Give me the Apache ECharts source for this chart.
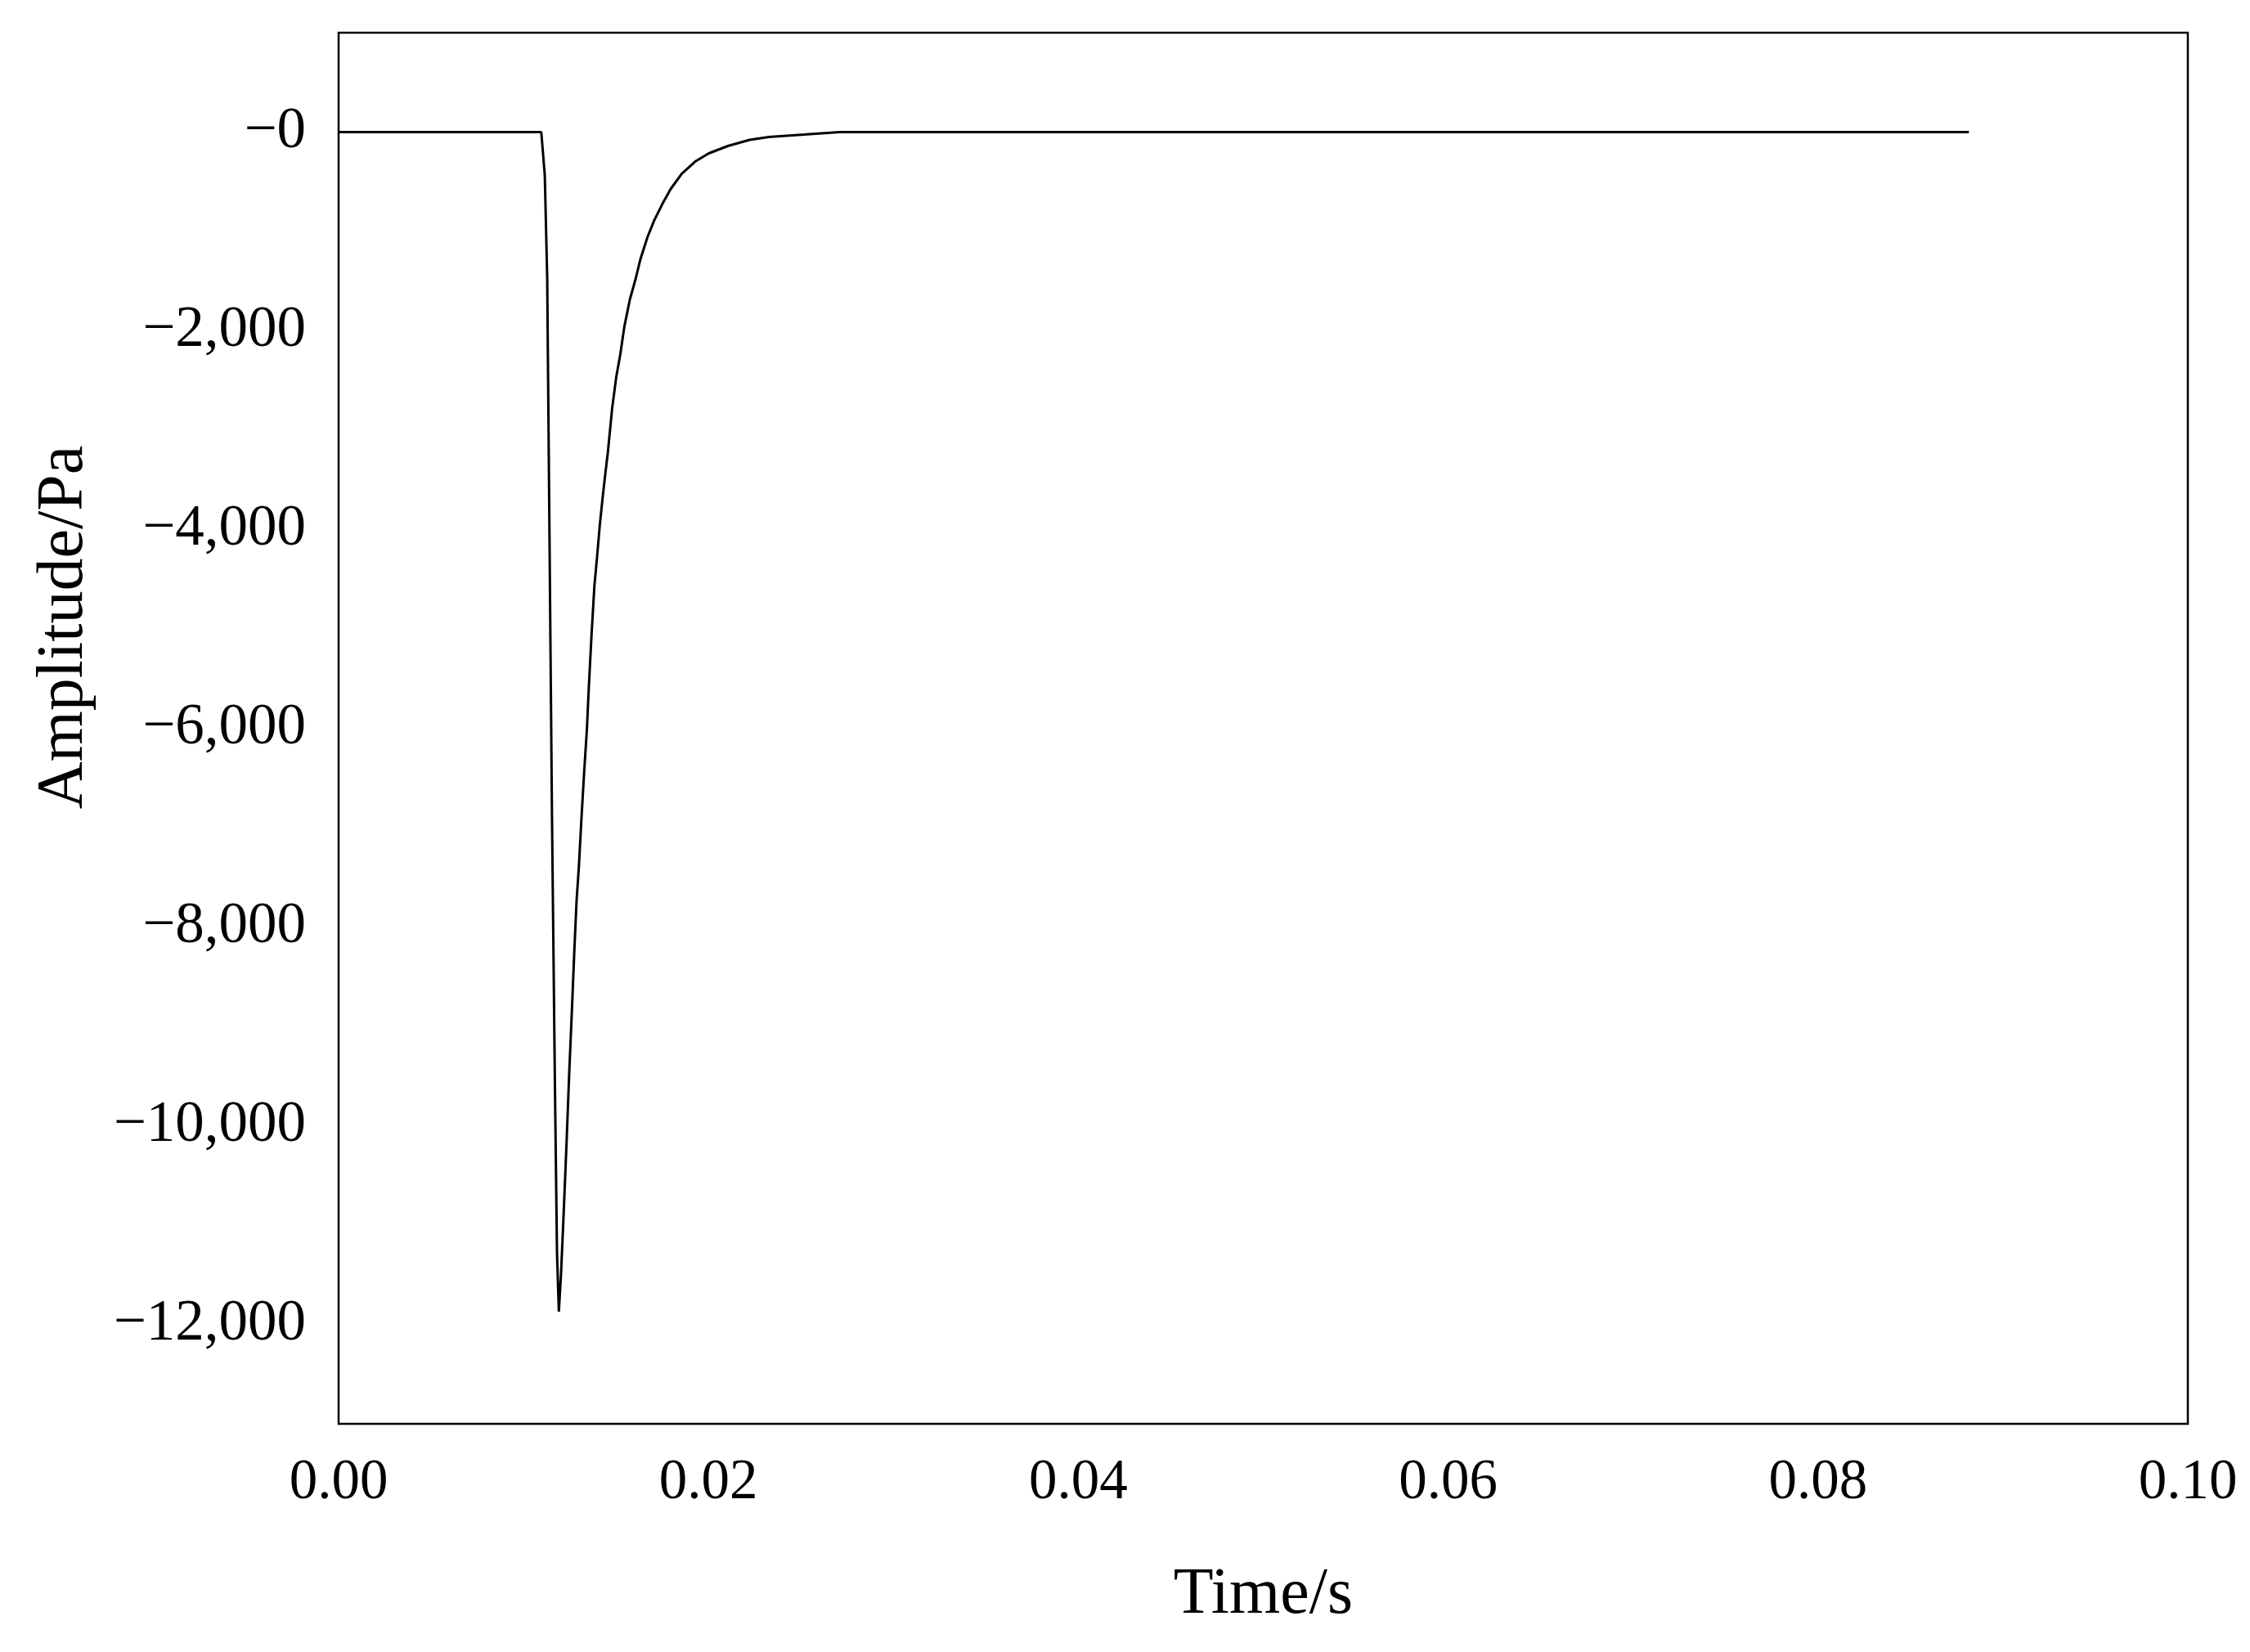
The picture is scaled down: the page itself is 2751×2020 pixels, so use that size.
<!DOCTYPE html>
<html>
<head>
<meta charset="utf-8">
<title>Amplitude vs Time</title>
<script src="https://cdn.jsdelivr.net/npm/echarts@6/dist/echarts.min.js"></script>
<style>
  html, body { margin: 0; padding: 0; background: #fff; }
  #chart { width: 2751px; height: 2020px; }
</style>
</head>
<body>
<div id="chart"></div>
<script>
// time (s) and amplitude (Pa)
var times = [0, 0.01096, 0.01115, 0.01128, 0.01139, 0.01154, 0.01170, 0.01181, 0.01191,
  0.01203, 0.01218, 0.01232, 0.01247, 0.01262, 0.01275, 0.01287, 0.01299, 0.01314,
  0.01328, 0.01343, 0.01353, 0.01368, 0.01383, 0.01398, 0.01412, 0.01427, 0.01442,
  0.01456, 0.01479, 0.01501, 0.01523, 0.01545, 0.01575, 0.01604, 0.01633, 0.01671,
  0.01707, 0.01751, 0.01796, 0.01855, 0.01928, 0.02002, 0.02105, 0.02223, 0.02326,
  0.02518, 0.02710, 0.08816];
var amplitudes = [0, 0, -435, -1465, -3774, -6908, -9628, -11277, -11871,
  -11484, -10841, -10206, -9472, -8820, -8227, -7732, -7402, -6883,
  -6437, -6000, -5588, -5052, -4574, -4269, -3964, -3692, -3444,
  -3224, -2785, -2470, -2240, -1960, -1685, -1492, -1273, -1053,
  -888, -723, -572, -421, -297, -214, -140, -78, -49,
  -25, 0, 0];
var yTicks = [-12000, -10000, -8000, -6000, -4000, -2000, 0];

var font = "'Liberation Serif', 'Times New Roman', serif";

var chart = echarts.init(document.getElementById("chart"));
var points = times.map(function(t, i) { return [t, amplitudes[i]]; });

chart.setOption({
  animation: false,
  backgroundColor: "#fff",
  grid: {
    left: 414, top: 40, right: 76, bottom: 279,
    show: true, borderColor: "#000", borderWidth: 2.5, backgroundColor: "transparent"
  },
  xAxis: {
    type: "value",
    min: 0, max: 0.1, interval: 0.02,
    name: "Time/s",
    nameLocation: "middle",
    nameGap: 170,
    nameTextStyle: { fontFamily: font, fontSize: 80, color: "#000" },
    axisLine: { show: false },
    axisTick: { show: false },
    splitLine: { show: false },
    axisLabel: {
      fontFamily: font, fontSize: 69, color: "#000", margin: 38,
      formatter: function(v) { return v.toFixed(2); }
    }
  },
  yAxis: {
    type: "value",
    min: -13000, max: 1000,
    axisLine: { show: false },
    axisTick: { show: false },
    splitLine: { show: false },
    axisLabel: {
      customValues: yTicks,
      fontFamily: font, fontSize: 71, color: "#000", margin: 40,
      formatter: function(v) { return "\u2212" + Math.abs(v).toLocaleString("en-US"); }
    }
  },
  graphic: [{
    type: "text",
    x: 79, y: 767,
    rotation: Math.PI / 2,
    style: {
      text: "Amplitude/Pa",
      font: "80px " + font,
      fill: "#000",
      textAlign: "center",
      textVerticalAlign: "middle"
    }
  }],
  series: [{
    type: "line",
    data: points,
    showSymbol: false,
    smooth: false,
    lineStyle: { color: "#000", width: 3 }
  }]
});
</script>
</body>
</html>
